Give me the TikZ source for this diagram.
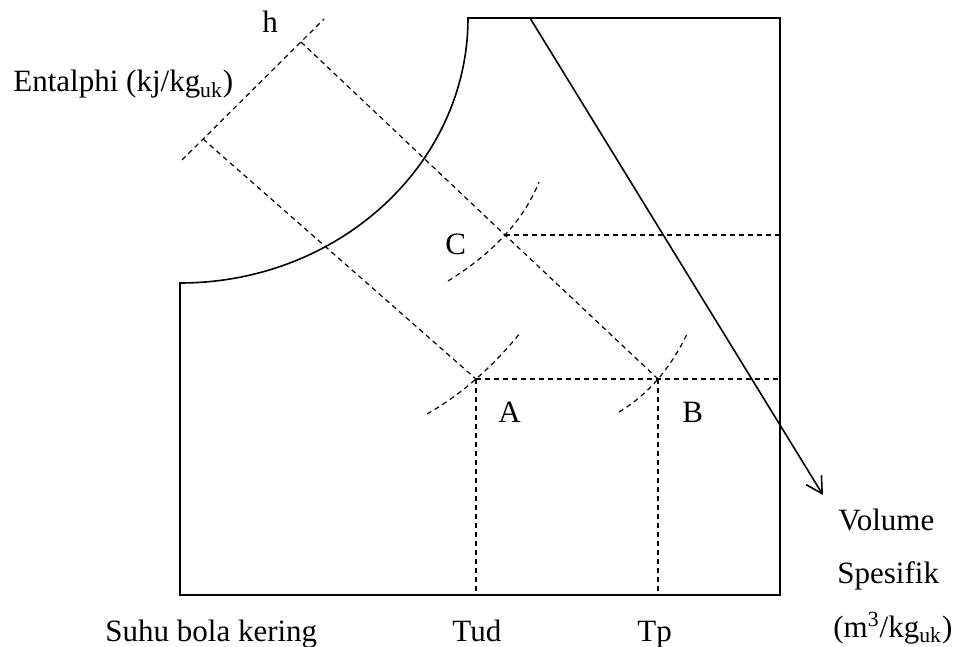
\documentclass[tikz,border=0pt]{standalone}
\usepackage{fontspec}
\setmainfont{Liberation Serif}
\usetikzlibrary{arrows.meta}

\begin{document}
\begin{tikzpicture}[
  x=0.5pt,y=-0.5pt,
  font=\fontsize{15.5}{18}\selectfont,
  >={Straight Barb[length=8pt,width=9pt]},
  frame/.style={draw=black,line width=0.8pt},
  guide/.style={draw=black,line width=0.6pt,dash pattern=on 2.5pt off 2pt},
  lbl/.style={anchor=base west,inner sep=0pt},
]
\useasboundingbox (0,0) rectangle (959,647);

%% ------------------------------------------------ frame and saturation curve
\coordinate (sat0) at (180,283);
\coordinate (sat1) at (468,18);
\coordinate (tr) at (780,18);
\coordinate (br) at (780,595);
\coordinate (bl) at (180,595);
\draw[frame] (sat0) .. controls (339,283) and (468,164) .. (sat1)
  -- (tr) -- (br) -- (bl) -- cycle;

%% ------------------------------------------------------------ state points
\coordinate (A) at (476,379);
\coordinate (B) at (658,379);
\coordinate (C) at (505,235);

%% ---------------------------------------------------- enthalpy axis, lines
\coordinate (h0) at (182,160);
\coordinate (h1) at (324,19);
\coordinate (hA) at (203,139);
\coordinate (hB) at (301,42);
\draw[guide] (h0) -- (h1);
\draw[guide] (hA) -- (A);
\draw[guide] (hB) -- (C) -- (B);

%% ------------------------------------------------- horizontals, verticals
\draw[guide] (C) -- (C -| br);
\draw[guide] (A) -- (B) -- (B -| br);
\draw[guide] (A) -- (A |- bl);
\draw[guide] (B) -- (B |- bl);

%% ------------------------------------------------------ humidity curves
\draw[guide] (448,281) .. controls (493.7,252.7) and (524,219.7) .. (539,182);
\draw[guide] (427,414) .. controls (461,394.7) and (492.3,367.3) .. (521,332);
\draw[guide] (619,412) .. controls (648,394.7) and (671,368) .. (688,332);

%% ------------------------------------------------------- specific volume
\coordinate (v0) at (530,18);
\coordinate (v1) at (823,495);
\draw[frame,->] (v0) -- (v1);

%% ---------------------------------------------------------------- labels
\node[lbl] (hlbl) at (262,33) {h};
\node[lbl] (entlbl) at (13,92) {Entalphi (kj/kg\textsubscript{uk})};
\node[lbl] (Clbl) at (445,255) {C};
\node[lbl] (Albl) at (498,422) {A};
\node[lbl] (Blbl) at (682,422) {B};
\node[lbl] (vol1) at (838,530) {Volume};
\node[lbl] (vol2) at (837,583) {Spesifik};
\node[lbl] (vol3) at (833,637) {(m\textsuperscript{3}/kg\textsubscript{uk})};
\node[lbl] (dbt) at (105,641) {Suhu bola kering};
\node[lbl] (tud) at (452,641) {Tud};
\node[lbl] (tp) at (637,641) {Tp};

\end{tikzpicture}
\end{document}
